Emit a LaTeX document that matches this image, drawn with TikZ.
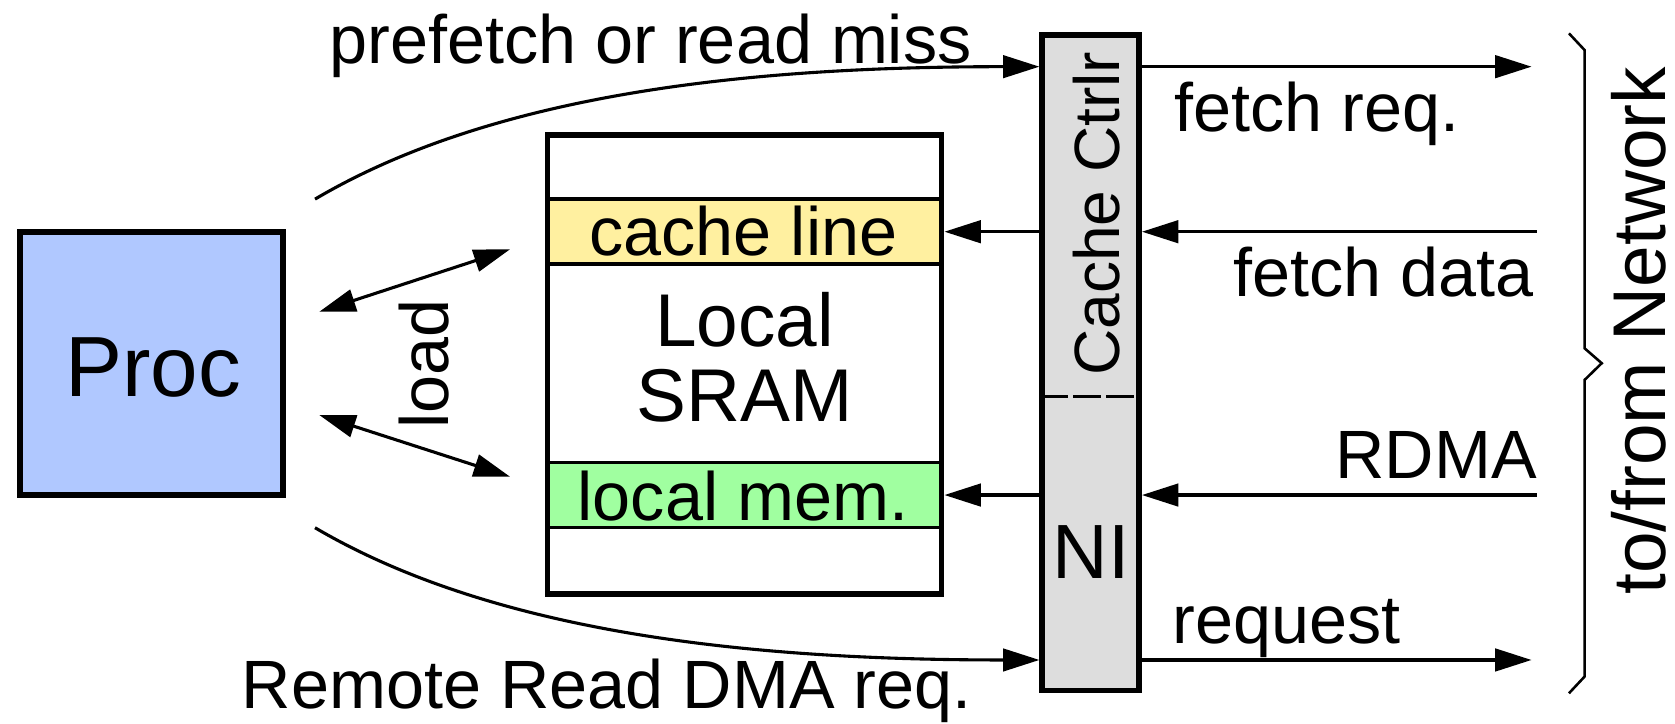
\documentclass[tikz,border=0pt]{standalone}
\usepackage{fontspec}
\setmainfont{Liberation Sans}
\usetikzlibrary{arrows.meta}
\definecolor{procblue}{HTML}{B0C8FF}
\definecolor{lineyellow}{HTML}{FFF0A0}
\definecolor{memgreen}{HTML}{A0FFA0}
\definecolor{ctrlgray}{HTML}{DDDDDD}
\begin{document}
\begin{tikzpicture}[x=0.5pt, y=-0.5pt,
  box/.style={draw, line width=2.6pt, inner sep=0pt},
  row/.style={draw, line width=1.5pt, inner sep=0pt, minimum width=184.5pt},
  lbl/.style={inner sep=0pt, font=\fontsize{32pt}{38pt}\selectfont},
  big/.style={font=\fontsize{#1}{#1}\selectfont},
  link/.style={line width=1.45pt, -{Triangle[length=17pt,width=10.5pt]}},
  twoway/.style={line width=1.45pt,
    {Triangle[length=17pt,width=10.5pt]}-{Triangle[length=17pt,width=10.5pt]}},
  divider/.style={line width=1.4pt, dash pattern=on 13pt off 2.4pt, dash phase=2.2pt},
  brace/.style={line width=1.2pt, line join=miter},
]
\useasboundingbox (0,0) rectangle (1568,677);

% processor
\node[box, fill=procblue, minimum width=123.1pt, minimum height=123.1pt] (proc) at (141.7,340.2) {};
\node[lbl, big=40pt, anchor=base] (proclabel) at (143.5,371) {Proc};

% local SRAM with its two highlighted rows
\node[row, fill=lineyellow, minimum height=30.4pt] (cl) at (697,216.7) {};
\node[lbl, anchor=base] (cllabel) at (696,238.7) {cache line};
\node[row, fill=memgreen, minimum height=30.6pt] (lm) at (697,463.4) {};
\node[lbl, anchor=base] (lmlabel) at (695.5,486.8) {local mem.};
\node[box, minimum width=184.5pt, minimum height=214.6pt] (sram) at (697,341.2) {};
\node[lbl, font=\fontsize{35pt}{35.1pt}\selectfont, align=center] (sramlabel) at (697,334.7) {Local\\SRAM};

% cache controller / network interface
\node[box, fill=ctrlgray, minimum width=45.4pt, minimum height=306.75pt] (ctrl) at (1021,339.65) {};
\coordinate (divL) at (978.2,371.3);
\coordinate (divR) at (1063.8,371.3);
\draw[divider] (divL) -- (divR);
\node[lbl, big=30pt, rotate=90, anchor=base] (ctrllabel) at (1048,200) {Cache Ctrlr};
\node[lbl, big=36pt, anchor=base] (nilabel) at (1021.5,541.4) {NI};

% network-side ends
\coordinate (fr) at (1433.7,62.4);
\coordinate (fd) at (1438.7,216.9);
\coordinate (rd) at (1438.7,463.4);
\coordinate (rq) at (1433.7,617.8);
\draw[link] (ctrl.east |- fr) -- (fr);
\draw[link] (fd) -- (ctrl.east |- fd);
\draw[link] (rd) -- (ctrl.east |- rd);
\draw[link] (ctrl.east |- rq) -- (rq);
\draw[link] (ctrl.west |- fd) -- (sram.east |- fd);
\draw[link] (ctrl.west |- rd) -- (sram.east |- rd);

\node[lbl, anchor=base west] (frlabel) at (1099,123.3) {fetch req.};
\node[lbl, anchor=base east] (fdlabel) at (1436,277.7) {fetch data};
\node[lbl, anchor=base east] (rdlabel) at (1439,447.8) {RDMA};
\node[lbl, anchor=base west] (rqlabel) at (1097,602.2) {request};

% processor requests to the controller
\coordinate (pfS) at (294.9,186.4);
\coordinate (rrS) at (294.9,494);
\draw[link] (pfS) .. controls (470,83) and (720,62.4) .. (ctrl.west |- fr);
\draw[link] (rrS) .. controls (470,597) and (720,617.8) .. (ctrl.west |- rq);
\node[lbl, anchor=base] (pflabel) at (609,59.3) {prefetch or read miss};
\node[lbl, anchor=base] (rrlabel) at (568,663) {Remote Read DMA req.};

% load paths
\coordinate (ldA1) at (298.9,291.8);
\coordinate (ldB1) at (477.4,233.4);
\coordinate (ldA2) at (298.9,388.5);
\coordinate (ldB2) at (477.4,446.2);
\draw[twoway] (ldA1) -- (ldB1);
\draw[twoway] (ldA2) -- (ldB2);
\node[lbl, rotate=90, anchor=base] (loadlabel) at (419.7,341) {load};

% network brace
\draw[brace] (1468.7,31.2) -- (1483.3,46.8) -- (1483.3,326) -- (1499.4,340)
  -- (1483.3,355.7) -- (1483.3,633.4) -- (1468.7,649);
\node[lbl, big=35pt, rotate=90, anchor=base] (netlabel) at (1559,309.7) {to/from Network};
\end{tikzpicture}
\end{document}
